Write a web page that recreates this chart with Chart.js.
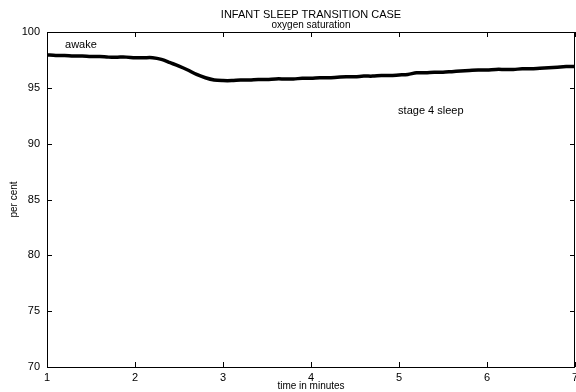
<!DOCTYPE html>
<html>
<head>
<meta charset="utf-8">
<script src="https://cdn.jsdelivr.net/npm/chart.js@4/dist/chart.umd.min.js"></script>
<style>
html,body{margin:0;padding:0;background:#fff;}
#wrap{width:576px;height:392px;}
</style>
</head>
<body>
<div id="wrap"><canvas id="c" width="576" height="392"></canvas></div>
<script>
// Data (trend of the oxygen saturation trace)
const timeMinutes = [1.0,1.1,1.2,1.3,1.4,1.5,1.6,1.7,1.8,1.9,2.0,2.1,2.2,2.3,2.4,2.5,2.6,2.7,2.8,2.9,3.0,3.1,3.2,3.3,3.4,3.5,3.6,3.7,3.8,3.9,4.0,4.1,4.2,4.3,4.4,4.5,4.6,4.7,4.8,4.9,5.0,5.1,5.2,5.3,5.4,5.5,5.6,5.7,5.8,5.9,6.0,6.1,6.2,6.3,6.4,6.5,6.6,6.7,6.8,6.9,7.0];
const saturation = [97.95,97.9,97.9,97.85,97.85,97.8,97.8,97.75,97.75,97.75,97.7,97.7,97.7,97.55,97.25,96.95,96.6,96.2,95.9,95.7,95.65,95.65,95.7,95.7,95.75,95.75,95.8,95.8,95.8,95.85,95.85,95.9,95.9,95.95,96.0,96.0,96.05,96.05,96.1,96.1,96.15,96.2,96.35,96.35,96.4,96.4,96.45,96.5,96.55,96.6,96.6,96.65,96.65,96.65,96.7,96.7,96.75,96.8,96.85,96.9,96.9];
const xTicks = [1,2,3,4,5,6,7];
const yTicks = [70,75,80,85,90,95,100];
const titleText = "INFANT SLEEP TRANSITION CASE";
const subtitleText = "oxygen saturation";
const xLabel = "time in minutes";
const yLabel = "per cent";
const notes = [
  {text:"awake", t:1.205, v:98.84},
  {text:"stage 4 sleep", t:4.99, v:92.93}
];

const FONT = "'Liberation Sans', Arial, Helvetica, sans-serif";

const framePlugin = {
  id:'frame',
  afterDraw(chart){
    const ctx = chart.ctx, a = chart.chartArea;
    const xs = chart.scales.x, ys = chart.scales.y;
    ctx.save();
    ctx.strokeStyle = '#000';
    ctx.lineWidth = 1;
    ctx.beginPath();
    ctx.rect(Math.round(a.left)+0.5, Math.round(a.top)+0.5, Math.round(a.right-a.left)-1, Math.round(a.bottom-a.top));
    ctx.stroke();
    const L = 5;
    ctx.beginPath();
    xTicks.forEach(t=>{
      const px = Math.round(xs.getPixelForValue(t))+0.5;
      ctx.moveTo(px,a.bottom); ctx.lineTo(px,a.bottom-L);
      ctx.moveTo(px,a.top); ctx.lineTo(px,a.top+L);
    });
    yTicks.forEach(v=>{
      const py = Math.round(ys.getPixelForValue(v))+0.5;
      ctx.moveTo(a.left,py); ctx.lineTo(a.left+L,py);
      ctx.moveTo(a.right,py); ctx.lineTo(a.right-L,py);
    });
    ctx.stroke();
    // titles
    ctx.fillStyle = '#000';
    ctx.textAlign = 'center';
    ctx.textBaseline = 'middle';
    const cx = (a.left+a.right)/2;
    ctx.font = "11px " + FONT;
    ctx.fillText(titleText, cx, 15);
    ctx.font = "10px " + FONT;
    ctx.fillText(subtitleText, cx, 25);
    ctx.font = "10px " + FONT;
    ctx.fillText(xLabel, cx, 386);
    ctx.save();
    ctx.translate(14, (a.top+a.bottom)/2);
    ctx.rotate(-Math.PI/2);
    ctx.fillText(yLabel, 0, 0);
    ctx.restore();
    // annotations
    ctx.textAlign = 'left';
    ctx.font = "11px " + FONT;
    notes.forEach(n=>{
      ctx.fillText(n.text, xs.getPixelForValue(n.t), ys.getPixelForValue(n.v));
    });
    ctx.restore();
  }
};

new Chart(document.getElementById('c'), {
  type:'line',
  data:{
    datasets:[{
      data: timeMinutes.map((t,i)=>({x:t,y:saturation[i]})),
      borderColor:'#000',
      borderWidth:3.5,
      pointRadius:0,
      tension:0.3,
      fill:false
    }]
  },
  options:{
    responsive:false,
    animation:false,
    devicePixelRatio:1,
    layout:{padding:{top:32,right:1,left:0,bottom:0}},
    plugins:{legend:{display:false},tooltip:{enabled:false},title:{display:false}},
    scales:{
      x:{
        type:'linear', min:1, max:7,
        afterBuildTicks(s){ s.ticks = xTicks.map(v=>({value:v})); },
        afterFit(s){ s.height = 25; s.paddingLeft = 0; s.paddingRight = 0; },
        grid:{display:false, drawTicks:false},
        border:{display:false},
        ticks:{color:'#000', font:{family:FONT,size:11}, padding:4, maxRotation:0, autoSkip:false}
      },
      y:{
        type:'linear', min:70, max:100,
        afterBuildTicks(s){ s.ticks = yTicks.map(v=>({value:v})); },
        afterFit(s){ s.width = 47; s.paddingTop = 0; s.paddingBottom = 0; },
        grid:{display:false, drawTicks:false},
        border:{display:false},
        ticks:{color:'#000', font:{family:FONT,size:11}, padding:7}
      }
    }
  },
  plugins:[framePlugin]
});
</script>
</body>
</html>
